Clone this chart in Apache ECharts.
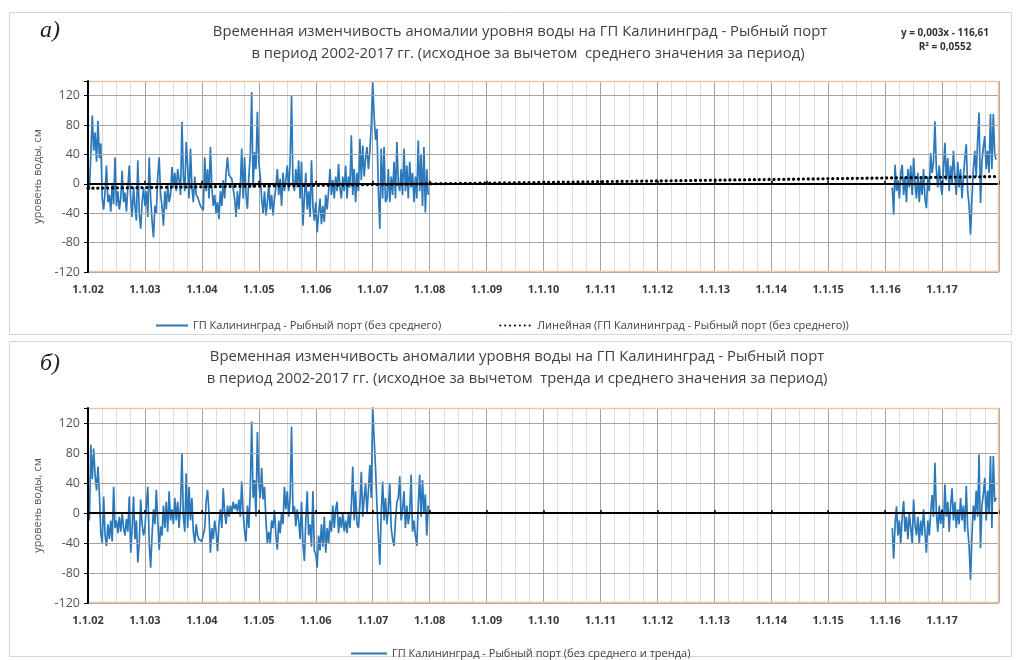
<!DOCTYPE html>
<html><head><meta charset="utf-8">
<script src="https://cdn.jsdelivr.net/npm/echarts@6/dist/echarts.min.js"></script>
<style>html,body{margin:0;padding:0;background:#fff}#c{width:1021px;height:660px}</style>
</head><body><div id="c"></div>
<script>
// ---- data ----
const tickLabels = ['1.1.02','1.1.03','1.1.04','1.1.05','1.1.06','1.1.07','1.1.08','1.1.09','1.1.10','1.1.11','1.1.12','1.1.13','1.1.14','1.1.15','1.1.16','1.1.17'];
const xMin = 2002, xMax = 2018;
const yMin = -120, yMax = 140, yStep = 40;
const sampleStep = 0.025;           // years between samples
const segAStart = 2002.0;           // first block 2002-2008
const segBStart = 2016.125;         // second block 2016-2018
// (a) anomaly minus mean
const topMain = [
 15,-8,40,93,45,70,30,86,35,55,
 -20,-35,-10,25,-25,-15,-38,0,-28,36,
 -30,-10,-35,-20,18,-25,-12,-38,-5,25,
 -20,-45,-5,-30,-50,32,-40,-61,-25,-5,
 -30,-10,-45,36,-20,-50,-73,-30,-40,10,
 36,-15,-30,-57,-10,-35,0,-25,-15,23,
 -5,15,-10,20,5,-15,84,10,-10,57,
 25,-20,48,-5,-25,10,-15,-18,-24,-30,
 -33,-36,36,-10,20,-20,50,-5,-30,-15,
 -40,-25,-48,-10,-30,5,-20,15,36,12,
 10,7,5,-20,-45,-10,-35,-5,48,-20,
 36,-15,-34,10,40,125,-5,43,20,98,
 30,10,-20,-40,-10,-43,-25,0,-35,-15,
 -43,-20,-5,20,-15,7,-30,15,-10,5,
 25,-10,30,120,0,-10,20,-5,32,-20,
 30,-57,-20,15,-35,-10,-45,32,-30,-50,
 -25,-66,-40,-20,-55,-30,-52,-15,-35,-10,
 20,-15,5,-20,10,-10,27,-5,-20,10,
 -10,25,-20,10,-5,66,-15,20,-25,15,
 -10,61,5,52,10,35,50,20,45,80,
 139,93,60,75,-10,-61,48,-20,50,-25,
 -20,20,-25,10,-15,30,-20,57,0,-10,
 20,-15,48,-10,25,-20,30,-5,15,-25,
 10,-20,59,-10,40,-30,50,-39,20,-15
];
const topEnd = [
 -5,-42,26,-10,5,-20,15,26,-15,10,
 -25,20,-5,25,-15,35,0,-20,15,-25,
 10,-15,20,-20,-33,10,-10,42,15,30,
 85,20,-5,25,0,-15,20,56,5,35,
 -10,25,0,45,10,-15,30,-5,20,-20,
 10,35,54,-10,-30,-69,-20,20,45,10,
 60,97,-26,30,50,65,20,45,15,95,
 20,95,40,33
];
// linear trend of (a), read at the ends of the range
const trendX = [2002, 2018];
const trendY = [-6, 10];
// (b) anomaly minus trend and mean
const botMain = [
 20,-10,91,45,86,50,30,62,26,-27,
 -40,22,-30,-44,-15,-35,-10,-38,35,-20,
 -10,-27,-5,-25,0,-20,-30,-8,-25,22,
 -53,-20,22,-35,-10,-66,-40,18,-15,-30,
 -20,10,35,-40,-73,-30,5,-15,31,-10,
 -49,-18,-30,10,-20,15,-25,29,-10,5,
 -15,20,-10,15,-20,10,80,-5,-25,53,
 -20,35,-10,20,-25,-40,-15,-30,-35,-37,
 -38,-40,-20,15,31,0,-53,-20,-35,-10,
 -25,-51,-15,5,-20,33,0,-15,10,-5,
 10,0,15,5,12,2,18,-5,42,0,
 -25,-38,10,-20,30,122,20,44,-5,108,
 40,20,60,18,35,-10,-40,-25,-40,-10,
 -20,4,-30,-49,-10,-27,0,-15,35,5,
 29,-5,20,115,0,9,-18,5,-10,-35,
 15,-40,-64,-10,29,-30,-15,-45,29,-50,
 -55,-73,-30,-50,-15,-45,-5,-53,-20,-40,
 -10,-25,10,-20,5,15,-27,-5,-20,0,
 -25,-10,-27,0,-20,10,62,-10,29,-15,
 -20,10,55,-5,20,40,0,30,64,20,
 142,100,60,10,-30,-69,0,42,-10,20,
 -15,5,40,-20,-35,-44,-10,15,20,49,
 -10,5,29,-20,10,-15,0,51,-25,-10,
 -30,-44,10,51,-5,44,0,25,-30,10
];
const botEnd = [
 -20,-61,-15,9,-30,-10,-40,-5,16,-25,
 -5,-35,0,-20,-40,18,-15,-30,-5,-40,
 -10,-30,5,-25,-53,-10,-30,0,24,-5,
 67,0,-25,10,-15,5,-20,38,-5,15,
 -25,10,33,-10,15,-20,5,-15,20,-10,
 10,-25,36,-20,-45,-89,-30,10,-10,30,
 -5,78,-47,10,25,47,-10,30,0,76,
 -20,76,15,20
];
const nameA = 'ГП Калининград - Рыбный порт (без среднего)';
const nameTrend = 'Линейная (ГП Калининград - Рыбный порт (без среднего))';
const nameB = 'ГП Калининград - Рыбный порт (без среднего и тренда)';

// ---- build ----
function build(mainArr, endArr) {
  const out = mainArr.map((v, i) => [segAStart + i * sampleStep, v]);
  out.push([(segAStart + mainArr.length * sampleStep + segBStart) / 2, null]);
  endArr.forEach((v, i) => out.push([segBStart + i * sampleStep, v]));
  return out;
}
const dataA = build(topMain, topEnd);
const dataB = build(botMain, botEnd);
const trendData = trendX.map((x, i) => [x, trendY[i]]);

const FONT = "'Open Sans', 'Noto Sans', sans-serif";
const G = [{left: 88, top: 81, width: 911, height: 191}, {left: 88, top: 408, width: 911, height: 195}];
const BLUE = '#2b79ba', ORANGE = '#f3c4a1', GRID = '#a3a3a3', MINOR = '#dcdcdc';

function xLabelAxis(gi) {
  return {type: 'value', gridIndex: gi, min: xMin, max: xMax, interval: 1, position: 'bottom',
    axisLine: {show: false, onZero: false}, axisTick: {show: false},
    axisLabel: {formatter: v => tickLabels[Math.round(v - xMin)] || '', fontFamily: FONT, fontWeight: 'bold',
      fontSize: 11, color: '#3a3a3a', margin: 12},
    splitLine: {show: true, lineStyle: {color: GRID, width: 1}},
    minorTick: {show: false, splitNumber: 4},
    minorSplitLine: {show: true, lineStyle: {color: MINOR, width: 1}}};
}
function xZeroAxis(gi) {
  return {type: 'value', gridIndex: gi, min: xMin, max: xMax, interval: 1, position: 'top', z: 5,
    axisLine: {show: true, onZero: true, lineStyle: {color: '#000', width: 2}},
    axisTick: {show: true, length: 3, lineStyle: {color: '#000', width: 1.5}},
    axisLabel: {show: false}, splitLine: {show: false}};
}
function yAxis(gi) {
  return {type: 'value', gridIndex: gi, min: yMin, max: yMax, interval: yStep, z: 5,
    axisLine: {show: true, onZero: false, lineStyle: {color: '#000', width: 2}},
    axisTick: {show: true, length: 4, lineStyle: {color: '#000'}},
    axisLabel: {formatter: v => (v > 120 ? '' : String(v)), fontFamily: FONT, fontSize: 12.5, color: '#555', margin: 8},
    splitLine: {show: true, lineStyle: {color: GRID, width: 1}},
    name: 'уровень воды, см', nameLocation: 'middle', nameGap: 43,
    nameTextStyle: {fontFamily: FONT, fontSize: 11, color: '#555'}};
}
function border(g) {
  const x0 = g.left, y0 = g.top, x1 = g.left + g.width, y1 = g.top + g.height;
  return {type: 'polyline', z: 100, silent: true,
    shape: {points: [[x0 + 1, y0 + 0.5], [x1 - 0.5, y0 + 0.5], [x1 - 0.5, y1 - 0.5], [x0 + 1, y1 - 0.5]]},
    style: {stroke: ORANGE, lineWidth: 1.5, fill: null}};
}
function txt(text, x, y, font, color, align) {
  return {type: 'text', x: x, y: y, z: 50, silent: true,
    style: {text: text, font: font, fill: color || '#404040', align: align || 'center', verticalAlign: 'middle'}};
}

const chart = echarts.init(document.getElementById('c'), null, {renderer: 'canvas'});
chart.setOption({
  backgroundColor: '#fff',
  animation: false,
  grid: G.map(g => Object.assign({containLabel: false}, g)),
  xAxis: [xLabelAxis(0), xZeroAxis(0), xLabelAxis(1), xZeroAxis(1)],
  yAxis: [yAxis(0), yAxis(1)],
  legend: [
    {data: [nameA, nameTrend], left: 150, top: 315, itemGap: 58, itemWidth: 32, itemHeight: 2,
      itemStyle: {opacity: 0},
      textStyle: {fontFamily: FONT, fontSize: 11, color: '#404040'}},
    {data: [nameB], left: 345, top: 643, itemWidth: 36, itemHeight: 2,
      itemStyle: {opacity: 0},
      textStyle: {fontFamily: FONT, fontSize: 11, color: '#404040'}}
  ],
  series: [
    {name: nameA, type: 'line', xAxisIndex: 0, yAxisIndex: 0, data: dataA, symbol: 'none', connectNulls: false,
      lineStyle: {color: BLUE, width: 1.7}, itemStyle: {color: BLUE}, z: 3},
    {name: nameTrend, type: 'line', xAxisIndex: 0, yAxisIndex: 0, data: trendData, symbol: 'none',
      lineStyle: {color: '#000', width: 3.2, type: [0.1, 4.8], cap: 'round'}, itemStyle: {color: '#000'}, z: 6},
    {name: nameB, type: 'line', xAxisIndex: 2, yAxisIndex: 1, data: dataB, symbol: 'none', connectNulls: false,
      lineStyle: {color: BLUE, width: 1.7}, itemStyle: {color: BLUE}, z: 3}
  ],
  graphic: [
    {type: 'rect', z: 0, silent: true, shape: {x: 9.5, y: 12.5, width: 1002, height: 322}, style: {stroke: '#d6d6d6', fill: null, lineWidth: 1}},
    {type: 'rect', z: 0, silent: true, shape: {x: 9.5, y: 341.5, width: 1002, height: 315}, style: {stroke: '#d6d6d6', fill: null, lineWidth: 1}},
    border(G[0]), border(G[1]),
    txt('а)', 50, 31, "italic 24px 'Liberation Serif', serif", '#222'),
    txt('б)', 50, 364, "italic 24px 'Liberation Serif', serif", '#222'),
    txt('Временная изменчивость аномалии уровня воды на ГП Калининград - Рыбный порт', 520, 32, "14.8px " + FONT),
    txt('в период 2002-2017 гг. (исходное за вычетом  среднего значения за период)', 528, 54, "14.8px " + FONT),
    txt('Временная изменчивость аномалии уровня воды на ГП Калининград - Рыбный порт', 517, 357, "14.8px " + FONT),
    txt('в период 2002-2017 гг. (исходное за вычетом  тренда и среднего значения за период)', 517, 379, "14.8px " + FONT),
    txt('y = 0,003x - 116,61', 945, 33, "bold 10px " + FONT, '#333'),
    txt('R² = 0,0552', 945, 47, "bold 10px " + FONT, '#333')
  ]
});
</script></body></html>
